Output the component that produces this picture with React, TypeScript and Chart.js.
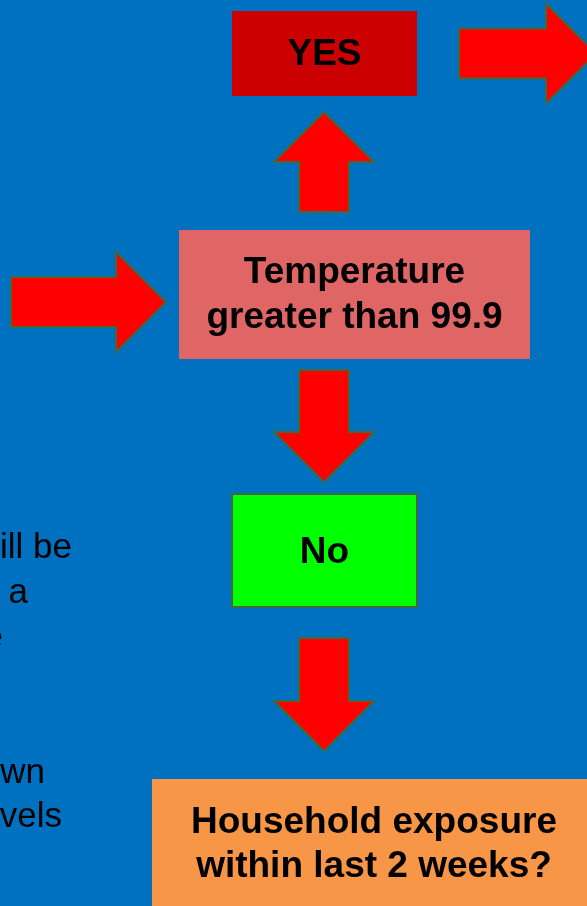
import { useEffect, useRef } from "react";
import { Chart, registerables } from "chart.js";
Chart.register(...registerables);

// Flowchart nodes (data coordinates: x 0..587, y 0..906 top-down)
const nodeLabels: string[][] = [
  ["YES"],
  ["Temperature", "greater than 99.9"],
  ["No"],
  ["Household exposure", "within last 2 weeks?"],
];
const nodeX0 = [232, 179, 232, 152];
const nodeX1 = [417, 530, 417, 596];
const nodeY0 = [11, 230, 494, 779];
const nodeY1 = [96, 359, 607, 920];
const nodeBaselines = [[65], [283, 328], [563], [833, 877]];
const nodeFills = ["#CC0000", "#E06666", "#00FF00", "#F79646"];
const nodeBorders = [false, false, true, false];

// Arrows: tail -> tip
const arrowFromX = [459, 11, 324, 324, 324];
const arrowFromY = [53.5, 302, 212, 370, 638];
const arrowToX = [596, 166, 324, 324, 324];
const arrowToY = [53.5, 302, 112, 482, 751];

// Side text fragments (clipped slide text at left)
const sideTexts = ["ill be", "a", "e", "wn", "vels"];
const sideTextRight = [72, 28, 3, 45, 62];
const sideTextBaseline = [558, 603, 648, 783, 827];

const W = 587;
const H = 906;

const flowPlugin = {
  id: "flow",
  beforeDraw(chart: any) {
    const ctx = chart.ctx;
    ctx.save();
    ctx.fillStyle = "#0070C0";
    ctx.fillRect(0, 0, chart.width, chart.height);
    ctx.restore();
  },
  afterDatasetsDraw(chart: any) {
    const ctx: CanvasRenderingContext2D = chart.ctx;
    const xs = chart.scales.x;
    const ys = chart.scales.y;
    const px = (v: number) => xs.getPixelForValue(v);
    const py = (v: number) => ys.getPixelForValue(v);
    ctx.save();

    // arrows
    const shaft = 50;
    const head = 100;
    const headLen = 50;
    for (let i = 0; i < arrowFromX.length; i++) {
      const x0 = arrowFromX[i], y0 = arrowFromY[i], x1 = arrowToX[i], y1 = arrowToY[i];
      const len = Math.hypot(x1 - x0, y1 - y0);
      const dx = (x1 - x0) / len, dy = (y1 - y0) / len;
      const nx = -dy, ny = dx;
      const bx = x1 - dx * headLen, by = y1 - dy * headLen;
      const pts = [
        [x0 + nx * shaft / 2, y0 + ny * shaft / 2],
        [bx + nx * shaft / 2, by + ny * shaft / 2],
        [bx + nx * head / 2, by + ny * head / 2],
        [x1, y1],
        [bx - nx * head / 2, by - ny * head / 2],
        [bx - nx * shaft / 2, by - ny * shaft / 2],
        [x0 - nx * shaft / 2, y0 - ny * shaft / 2],
      ];
      ctx.beginPath();
      pts.forEach((p, k) => {
        if (k === 0) ctx.moveTo(px(p[0]), py(p[1]));
        else ctx.lineTo(px(p[0]), py(p[1]));
      });
      ctx.closePath();
      ctx.fillStyle = "#FF0000";
      ctx.fill();
      ctx.lineWidth = 2;
      ctx.lineJoin = "miter";
      ctx.strokeStyle = "#41693B";
      ctx.stroke();
    }

    // nodes
    for (let i = 0; i < nodeLabels.length; i++) {
      const l = px(nodeX0[i]), r = px(nodeX1[i]);
      const t = py(nodeY0[i]), b = py(nodeY1[i]);
      ctx.fillStyle = nodeFills[i];
      ctx.fillRect(l, t, r - l, b - t);
      if (nodeBorders[i]) {
        ctx.lineWidth = 2;
        ctx.strokeStyle = "#41693B";
        ctx.strokeRect(l, t, r - l, b - t);
      }
      ctx.fillStyle = "#000000";
      ctx.font = "bold 37px 'Liberation Sans', Arial, sans-serif";
      ctx.textAlign = "center";
      ctx.textBaseline = "alphabetic";
      const cx = (nodeX0[i] + nodeX1[i]) / 2;
      nodeLabels[i].forEach((line, k) => {
        ctx.fillText(line, px(cx), py(nodeBaselines[i][k]));
      });
    }

    // side text
    ctx.fillStyle = "#000000";
    ctx.font = "35px 'Liberation Sans', Arial, sans-serif";
    ctx.textAlign = "right";
    ctx.textBaseline = "alphabetic";
    for (let i = 0; i < sideTexts.length; i++) {
      ctx.fillText(sideTexts[i], px(sideTextRight[i]), py(sideTextBaseline[i]));
    }
    ctx.restore();
  },
};

export default function App() {
  const ref = useRef<HTMLCanvasElement | null>(null);
  useEffect(() => {
    document.body.style.margin = "0";
    if (!ref.current) return;
    const chart = new Chart(ref.current, {
      type: "scatter",
      data: {
        datasets: [
          {
            data: nodeLabels.map((_, i) => ({
              x: (nodeX0[i] + nodeX1[i]) / 2,
              y: (nodeY0[i] + nodeY1[i]) / 2,
            })),
            pointRadius: 0,
          },
        ],
      },
      options: {
        animation: false,
        responsive: false,
        layout: { padding: 0 },
        plugins: { legend: { display: false }, tooltip: { enabled: false } },
        scales: {
          x: { type: "linear", min: 0, max: W, display: false },
          y: { type: "linear", min: 0, max: H, reverse: true, display: false },
        },
      },
      plugins: [flowPlugin],
    });
    return () => chart.destroy();
  }, []);
  return (
    <div style={{ position: "absolute", left: 0, top: 0, width: W, height: H, overflow: "hidden" }}>
      <canvas ref={ref} width={W} height={H} style={{ display: "block" }} />
    </div>
  );
}
